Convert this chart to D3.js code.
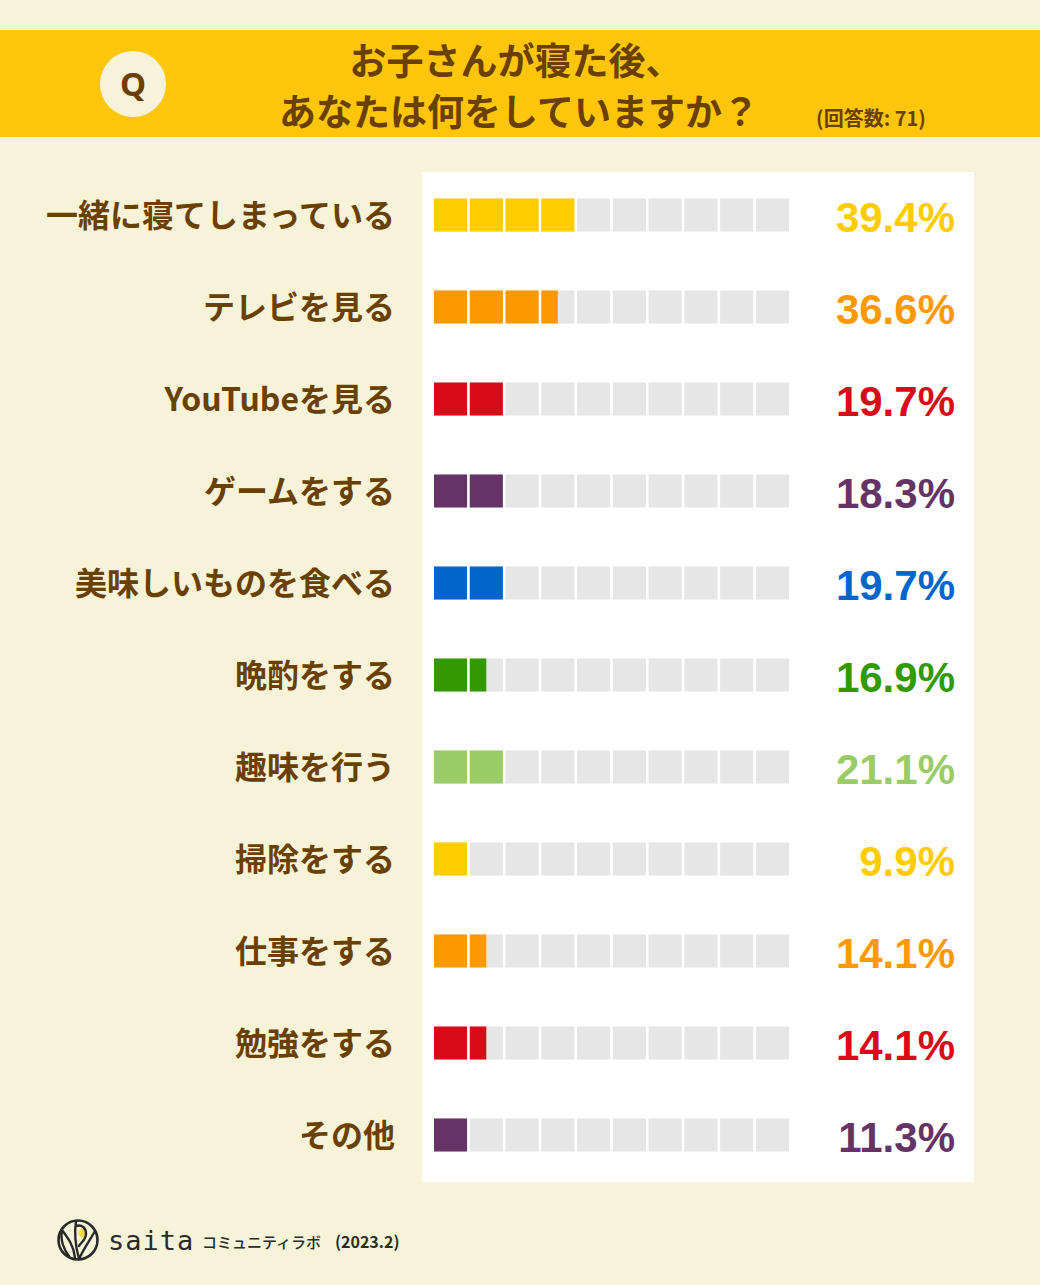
<!DOCTYPE html>
<html>
<head>
<meta charset="utf-8">
<script src="https://cdn.jsdelivr.net/npm/d3@7"></script>
<style>
  html, body { margin: 0; padding: 0; background: #f7f3d8; }
  svg { display: block; }
</style>
</head>
<body>
<div id="chart"></div>
<script>
// data
const categories = [
  "一緒に寝てしまっている", "テレビを見る", "YouTubeを見る", "ゲームをする",
  "美味しいものを食べる", "晩酌をする", "趣味を行う", "掃除をする",
  "仕事をする", "勉強をする", "その他"
];
const values = [39.4, 36.6, 19.7, 18.3, 19.7, 16.9, 21.1, 9.9, 14.1, 14.1, 11.3];
const colors = [
  "#ffcc00", "#ff9900", "#d80c18", "#663366", "#0066cc", "#339900",
  "#99cc66", "#ffcc00", "#ff9900", "#d80c18", "#663366"
];
const cells = d3.range(10); // each cell = 10%

const width = 1040, height = 1285;
const brown = "#6a4000";

const svg = d3.select("#chart").append("svg")
  .attr("width", width)
  .attr("height", height);

// background
svg.append("rect").attr("width", width).attr("height", height).attr("fill", "#f7f3d8");

// header band
svg.append("rect")
  .attr("x", 0).attr("y", 30).attr("width", width).attr("height", 107)
  .attr("fill", "#ffc60b");

svg.append("circle").attr("cx", 133).attr("cy", 84).attr("r", 33).attr("fill", "#f7f3d8");
svg.append("text")
  .attr("x", 133).attr("y", 96)
  .attr("text-anchor", "middle")
  .attr("font-family", "'Noto Sans', 'Open Sans', sans-serif")
  .attr("font-weight", 700)
  .attr("font-size", 33)
  .attr("fill", brown)
  .text("Q");

const title = svg.append("text")
  .attr("text-anchor", "middle")
  .attr("font-family", "'Noto Sans CJK JP', sans-serif")
  .attr("font-weight", 700)
  .attr("font-size", 37)
  .attr("fill", brown);
title.append("tspan").attr("x", 516).attr("y", 75).text("お子さんが寝た後、");
title.append("tspan").attr("x", 519).attr("y", 126).text("あなたは何をしていますか？");

svg.append("text")
  .attr("x", 871).attr("y", 126)
  .attr("text-anchor", "middle")
  .attr("font-family", "'Noto Sans CJK JP', sans-serif")
  .attr("font-weight", 700)
  .attr("font-size", 20)
  .attr("fill", brown)
  .text("(回答数: 71)");

// white panel
svg.append("rect")
  .attr("x", 422).attr("y", 172).attr("width", 552).attr("height", 1010)
  .attr("fill", "#ffffff");

// scales
const y = d3.scaleBand()
  .domain(categories)
  .range([152.5, 1197.5])
  .paddingInner(0.641)
  .paddingOuter(0.5);

const xCell = d3.scaleBand()
  .domain(cells)
  .range([434, 789])
  .paddingInner(0.075);

const rows = svg.selectAll("g.row")
  .data(categories.map((c, i) => ({ c, v: values[i], col: colors[i] })))
  .enter()
  .append("g")
  .attr("class", "row")
  .attr("transform", d => "translate(0," + y(d.c) + ")");

// gray cells
rows.selectAll("rect.bg")
  .data(cells)
  .enter()
  .append("rect")
  .attr("class", "bg")
  .attr("x", i => xCell(i))
  .attr("y", 0)
  .attr("width", xCell.bandwidth())
  .attr("height", y.bandwidth())
  .attr("fill", "#e6e6e6");

// coloured fill, rounded to half cells
rows.each(function(d) {
  const filled = Math.round(d.v / 5) / 2;
  d3.select(this).selectAll("rect.fg")
    .data(cells.filter(i => i < filled))
    .enter()
    .append("rect")
    .attr("class", "fg")
    .attr("x", i => xCell(i))
    .attr("y", 0)
    .attr("width", i => xCell.bandwidth() * Math.min(1, filled - i))
    .attr("height", y.bandwidth())
    .attr("fill", d.col);
});

// category labels
rows.append("text")
  .attr("x", 395)
  .attr("y", y.bandwidth() / 2)
  .attr("dy", "0.36em")
  .attr("text-anchor", "end")
  .attr("font-family", "'Noto Sans CJK JP', sans-serif")
  .attr("font-weight", 700)
  .attr("font-size", 32)
  .attr("fill", brown)
  .text(d => d.c);

// percentages
rows.append("text")
  .attr("x", 955)
  .attr("y", y.bandwidth() / 2 + 17)
  .attr("text-anchor", "end")
  .attr("font-family", "'Liberation Sans', Arial, sans-serif")
  .attr("font-weight", 700)
  .attr("font-size", 42)
  .attr("fill", d => d.col)
  .text(d => d3.format(".1f")(d.v) + "%");

// footer logo
const logo = svg.append("g").attr("transform", "translate(78,1240)");
logo.append("circle").attr("r", 19.5).attr("fill", "none").attr("stroke", "#2a2a2a").attr("stroke-width", 2.6);
logo.append("circle").attr("cx", 5).attr("cy", -7).attr("r", 4.5).attr("fill", "#ffd84a");
logo.append("path")
  .attr("d", "M-2,-19 C-4,-6 -2,8 1,19 M1,19 C6,8 12,0 17,-9 M-2,-14 C4,-16 8,-12 8,-6 C8,0 3,2 1,6 M-16,-10 C-10,-2 -4,6 -3,18 M-16,-10 C-18,0 -14,10 -9,16")
  .attr("fill", "none")
  .attr("stroke", "#2a2a2a")
  .attr("stroke-width", 2.4)
  .attr("stroke-linecap", "round");

svg.append("text")
  .attr("x", 108).attr("y", 1250)
  .attr("font-family", "'DejaVu Sans Mono', monospace")
  .attr("font-size", 27)
  .attr("letter-spacing", 1)
  .attr("fill", "#2a2a2a")
  .text("saita");

svg.append("text")
  .attr("x", 202).attr("y", 1248)
  .attr("font-family", "'Noto Sans CJK JP', sans-serif")
  .attr("font-weight", 500)
  .attr("font-size", 15)
  .attr("letter-spacing", 0)
  .attr("fill", "#2a2a2a")
  .text("コミュニティラボ");

svg.append("text")
  .attr("x", 335).attr("y", 1248)
  .attr("font-family", "'Noto Sans CJK JP', sans-serif")
  .attr("font-weight", 700)
  .attr("font-size", 16)
  .attr("fill", "#2a2a2a")
  .text("(2023.2)");
</script>
</body>
</html>
